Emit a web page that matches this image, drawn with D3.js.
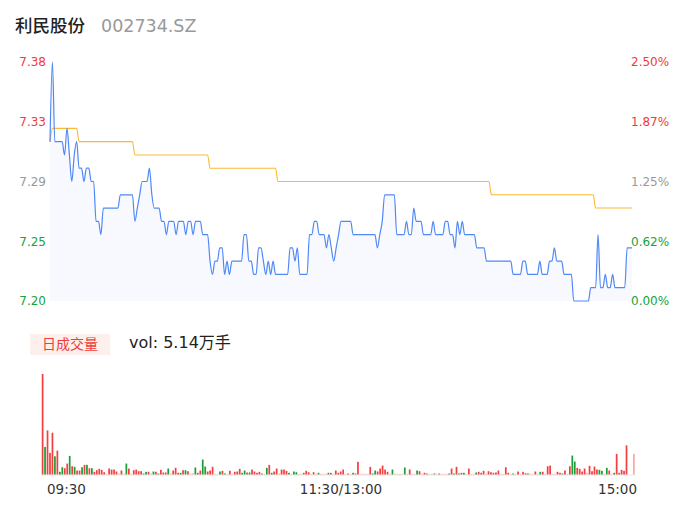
<!DOCTYPE html>
<html>
<head>
<meta charset="utf-8">
<script src="https://cdn.jsdelivr.net/npm/d3@7"></script>
<style>
  body { margin: 0; background: #fff; }
  text { font-family: "DejaVu Sans", "Noto Sans CJK SC", sans-serif; }
</style>
</head>
<body>
<div id="wrapper"></div>
<script>
// 利民股份 intraday, one value per minute (241 minutes)
const stockName = "利民股份"
const stockCode = "002734.SZ"
const volLabel = "日成交量"
const volText = "vol: 5.14万手"

const prices = [
  7.32,7.38,7.32,7.32,7.32,7.32,7.31,7.33,7.31,7.29,
  7.31,7.32,7.30,7.30,7.29,7.30,7.30,7.29,7.29,7.26,
  7.26,7.25,7.27,7.27,7.27,7.27,7.27,7.27,7.27,7.28,
  7.28,7.28,7.28,7.28,7.28,7.26,7.27,7.28,7.29,7.29,
  7.29,7.30,7.28,7.27,7.27,7.27,7.26,7.26,7.25,7.26,
  7.26,7.26,7.25,7.26,7.26,7.26,7.25,7.26,7.26,7.25,
  7.26,7.26,7.26,7.25,7.25,7.25,7.23,7.22,7.23,7.23,
  7.24,7.24,7.22,7.23,7.22,7.23,7.23,7.23,7.23,7.23,
  7.25,7.25,7.23,7.23,7.22,7.22,7.24,7.24,7.23,7.22,
  7.23,7.22,7.23,7.22,7.22,7.22,7.22,7.22,7.22,7.24,
  7.24,7.23,7.24,7.22,7.22,7.22,7.22,7.25,7.25,7.26,
  7.26,7.25,7.25,7.25,7.24,7.25,7.24,7.23,7.24,7.25,
  7.26,7.26,7.26,7.26,7.26,7.25,7.25,7.25,7.25,7.25,
  7.25,7.25,7.25,7.25,7.25,7.24,7.25,7.26,7.28,7.28,
  7.28,7.28,7.28,7.25,7.25,7.25,7.25,7.26,7.25,7.25,
  7.27,7.26,7.26,7.26,7.25,7.25,7.25,7.25,7.26,7.25,
  7.25,7.25,7.25,7.26,7.26,7.25,7.25,7.24,7.26,7.25,
  7.26,7.25,7.25,7.25,7.25,7.25,7.24,7.24,7.24,7.24,
  7.23,7.23,7.23,7.23,7.23,7.23,7.23,7.23,7.23,7.23,
  7.23,7.22,7.22,7.22,7.22,7.23,7.23,7.22,7.22,7.22,
  7.22,7.22,7.23,7.22,7.22,7.22,7.23,7.23,7.24,7.23,
  7.23,7.23,7.22,7.22,7.22,7.22,7.20,7.20,7.20,7.20,
  7.20,7.20,7.20,7.21,7.21,7.21,7.25,7.21,7.21,7.22,
  7.21,7.21,7.22,7.21,7.21,7.21,7.21,7.21,7.24,7.24,
  7.24
]

const avgPrices = [
  7.32,7.33,7.33,7.33,7.33,7.33,7.33,7.33,7.33,7.33,
  7.33,7.33,7.32,7.32,7.32,7.32,7.32,7.32,7.32,7.32,
  7.32,7.32,7.32,7.32,7.32,7.32,7.32,7.32,7.32,7.32,
  7.32,7.32,7.32,7.32,7.32,7.31,7.31,7.31,7.31,7.31,
  7.31,7.31,7.31,7.31,7.31,7.31,7.31,7.31,7.31,7.31,
  7.31,7.31,7.31,7.31,7.31,7.31,7.31,7.31,7.31,7.31,
  7.31,7.31,7.31,7.31,7.31,7.31,7.30,7.30,7.30,7.30,
  7.30,7.30,7.30,7.30,7.30,7.30,7.30,7.30,7.30,7.30,
  7.30,7.30,7.30,7.30,7.30,7.30,7.30,7.30,7.30,7.30,
  7.30,7.30,7.30,7.30,7.29,7.29,7.29,7.29,7.29,7.29,
  7.29,7.29,7.29,7.29,7.29,7.29,7.29,7.29,7.29,7.29,
  7.29,7.29,7.29,7.29,7.29,7.29,7.29,7.29,7.29,7.29,
  7.29,7.29,7.29,7.29,7.29,7.29,7.29,7.29,7.29,7.29,
  7.29,7.29,7.29,7.29,7.29,7.29,7.29,7.29,7.29,7.29,
  7.29,7.29,7.29,7.29,7.29,7.29,7.29,7.29,7.29,7.29,
  7.29,7.29,7.29,7.29,7.29,7.29,7.29,7.29,7.29,7.29,
  7.29,7.29,7.29,7.29,7.29,7.29,7.29,7.29,7.29,7.29,
  7.29,7.29,7.29,7.29,7.29,7.29,7.29,7.29,7.29,7.29,
  7.29,7.29,7.28,7.28,7.28,7.28,7.28,7.28,7.28,7.28,
  7.28,7.28,7.28,7.28,7.28,7.28,7.28,7.28,7.28,7.28,
  7.28,7.28,7.28,7.28,7.28,7.28,7.28,7.28,7.28,7.28,
  7.28,7.28,7.28,7.28,7.28,7.28,7.28,7.28,7.28,7.28,
  7.28,7.28,7.28,7.28,7.28,7.27,7.27,7.27,7.27,7.27,
  7.27,7.27,7.27,7.27,7.27,7.27,7.27,7.27,7.27,7.27,
  7.27
]

const volumes = [
  101,27.7,44.3,21.7,42,18.3,24,2.7,7.3,6.3,
  11,18.7,8.3,7.7,4,4,7.3,9.7,9.7,6.3,
  6.3,2.7,4.3,5.7,4.7,2.3,0.7,6,5,5,
  3,1,4,0.7,11,6,0.7,4.3,5,3.3,
  3.3,1,2.7,2.7,1,3,2.7,1,4.7,2,
  2,6,1,4,6.7,1.7,1.7,4.3,4.3,3.3,
  1,1.3,7,1.7,4,15,8,3,4,7.7,
  0.7,0.7,3,3.7,1,0.7,3.7,0.7,2.7,3,
  5.7,1.7,4,2,2,5,3,1.7,2.7,1,
  0.7,6.7,9.7,1.7,3,6,1,5,5,3.7,
  1.7,0.7,3,2.3,0.7,0.7,1.7,3.7,2.3,0.7,
  2.3,0.7,1.7,0.7,0.7,0.7,1.7,1.7,0.7,4,
  1.7,3,5,0.7,1,0.7,1.7,1,12.7,0.7,
  0.7,0.7,0.7,7.7,1,4,3,6,9,5,
  2.7,0.7,5,0.7,0.7,0.7,0.7,7,0.7,5,
  0.7,0.7,4,3.3,0.7,1.7,1,0.7,0.7,1,
  0.7,1,0.7,0.7,0.7,1,6,1,7.7,1,
  1.7,1.7,0.7,6,0.7,0.7,2,2.7,1.7,3.7,
  0.7,3.3,2.3,1.7,2,4,0.7,0.7,7.3,1.7,
  0.7,1,0.7,3,0.7,2.7,1.3,1,0.7,0.7,
  3,0.7,2.7,2.7,0.7,8.3,9,0.7,0.7,2.7,
  1.7,1,4,0.7,8.3,19,13,6.7,5.7,3,
  6,1.7,8.7,3.3,8,5,4.7,3.7,0.7,6.7,
  4,0.7,1.7,20.7,1.7,4.7,3.7,29.3,0,0,
  20.7
]

// r = up, g = down, p = flat
const volColors = [
  "r","g","r","r","r","g","r","g","g","r",
  "r","g","r","g","r","r","g","r","g","r",
  "g","r","r","r","r","r","p","r","r","r",
  "r","p","r","p","g","r","p","r","r","r",
  "r","g","g","r","p","g","r","g","r","r",
  "r","g","p","r","r","r","g","r","g","r",
  "p","p","g","r","r","g","g","r","r","r",
  "p","p","g","r","g","p","r","p","r","r",
  "r","g","g","r","g","r","r","r","r","g",
  "p","g","r","g","r","r","p","r","r","r",
  "g","p","g","g","p","p","r","r","r","p",
  "r","p","g","p","p","p","g","r","p","r",
  "r","r","r","p","r","p","g","r","r","p",
  "p","p","p","r","g","g","r","r","r","r",
  "r","p","g","p","p","p","p","g","p","r",
  "p","p","g","r","p","r","r","p","p","g",
  "p","r","p","p","p","g","r","g","r","g",
  "r","g","p","r","p","p","g","r","r","r",
  "p","r","r","r","r","r","p","p","r","r",
  "p","g","p","r","p","r","r","g","p","p",
  "r","p","g","r","p","r","r","p","p","r",
  "r","g","r","p","r","g","g","r","r","r",
  "r","p","r","r","r","r","g","g","p","g",
  "r","p","g","r","r","r","r","r","p","p",
  "p"
]

const priceTicks = [7.38, 7.335, 7.29, 7.245, 7.20]
const priceLabels = ["7.38", "7.33", "7.29", "7.25", "7.20"]
const pctLabels = ["2.50%", "1.87%", "1.25%", "0.62%", "0.00%"]
const tickColors = ["#f23a3a", "#f23a3a", "#999999", "#16a33a", "#16a33a"]
const timeTicks = [0, 120, 240]
const timeLabels = ["09:30", "11:30/13:00", "15:00"]

function drawChart() {
  const dms = {
    width: 686,
    height: 524,
    priceLeft: 50,
    priceRight: 632,
    priceTop: 62,
    priceBottom: 301,
    volLeft: 41,
    volRight: 635.5,
    volTop: 374,
    volBottom: 474.5,
  }

  const barColor = { r: "#f43f3f", g: "#18a036", p: "#f8aaaa" }

  const svg = d3.select("#wrapper")
    .append("svg")
    .attr("width", dms.width)
    .attr("height", dms.height)

  // title
  svg.append("text")
    .attr("x", 15)
    .attr("y", 32)
    .attr("fill", "#222")
    .style("font-size", "17.5px")
    .style("font-weight", 500)
    .text(stockName)

  svg.append("text")
    .attr("x", 101)
    .attr("y", 32)
    .attr("fill", "#999")
    .style("font-size", "17.5px")
    .text(stockCode)

  const xScale = d3.scaleLinear()
    .domain([0, prices.length - 1])
    .range([dms.priceLeft, dms.priceRight])

  const yScale = d3.scaleLinear()
    .domain([7.20, 7.38])
    .range([dms.priceBottom, dms.priceTop])

  const area = d3.area()
    .x((d, i) => xScale(i))
    .y0(yScale(7.20))
    .y1(d => yScale(d))
    .curve(d3.curveMonotoneX)

  svg.append("path")
    .datum(prices)
    .attr("d", area)
    .attr("fill", "#f7f9fe")

  const line = d3.line()
    .x((d, i) => xScale(i))
    .y(d => yScale(d))
    .curve(d3.curveMonotoneX)

  svg.append("path")
    .datum(avgPrices)
    .attr("d", line)
    .attr("fill", "none")
    .attr("stroke", "#fbb935")
    .attr("stroke-width", 1.1)

  svg.append("path")
    .datum(prices)
    .attr("d", line)
    .attr("fill", "none")
    .attr("stroke", "#4f88f7")
    .attr("stroke-width", 1.2)

  // price axes
  const leftAxis = svg.append("g")
    .attr("transform", `translate(${dms.priceLeft},0)`)
    .call(d3.axisLeft(yScale)
      .tickValues(priceTicks)
      .tickFormat((d, i) => priceLabels[i])
      .tickSize(0)
      .tickPadding(4))
  leftAxis.select(".domain").remove()
  leftAxis.selectAll("text")
    .style("font-size", "12px")
    .attr("fill", (d, i) => tickColors[i])

  const rightAxis = svg.append("g")
    .attr("transform", `translate(${dms.priceRight - 5},0)`)
    .call(d3.axisRight(yScale)
      .tickValues(priceTicks)
      .tickFormat((d, i) => pctLabels[i])
      .tickSize(0)
      .tickPadding(4))
  rightAxis.select(".domain").remove()
  rightAxis.selectAll("text")
    .style("font-size", "12px")
    .attr("fill", (d, i) => tickColors[i])
  svg.selectAll("g").attr("font-family", null)

  // volume header
  svg.append("rect")
    .attr("x", 30)
    .attr("y", 334)
    .attr("width", 80)
    .attr("height", 21)
    .attr("fill", "#fdf0ec")

  svg.append("text")
    .attr("x", 70)
    .attr("y", 349)
    .attr("text-anchor", "middle")
    .attr("fill", "#f23a3a")
    .style("font-size", "14px")
    .text(volLabel)

  svg.append("text")
    .attr("x", 129)
    .attr("y", 348)
    .attr("fill", "#222")
    .style("font-size", "16px")
    .text(volText)

  // volume bars
  const xBand = d3.scaleBand()
    .domain(d3.range(volumes.length))
    .range([dms.volLeft, dms.volRight])
    .padding(0.3)

  const vScale = d3.scaleLinear()
    .domain([0, d3.max(volumes)])
    .range([dms.volBottom, dms.volTop])

  svg.append("line")
    .attr("x1", dms.volLeft)
    .attr("x2", dms.volRight)
    .attr("y1", dms.volBottom + 0.5)
    .attr("y2", dms.volBottom + 0.5)
    .attr("stroke", "#e6e6e6")

  svg.append("g")
    .selectAll("rect")
    .data(volumes)
    .join("rect")
    .attr("x", (d, i) => xBand(i))
    .attr("y", d => vScale(d))
    .attr("width", xBand.bandwidth())
    .attr("height", d => dms.volBottom - vScale(d))
    .attr("fill", (d, i) => barColor[volColors[i]])

  // time labels
  const anchors = ["start", "middle", "end"]
  const offsets = [-3, 0, 5]
  svg.append("g")
    .selectAll("text")
    .data(timeTicks)
    .join("text")
    .attr("x", (d, i) => xScale(d) + offsets[i])
    .attr("y", 494)
    .attr("text-anchor", (d, i) => anchors[i])
    .attr("fill", "#333")
    .style("font-size", "13.5px")
    .text((d, i) => timeLabels[i])
}

drawChart()
</script>
</body>
</html>
